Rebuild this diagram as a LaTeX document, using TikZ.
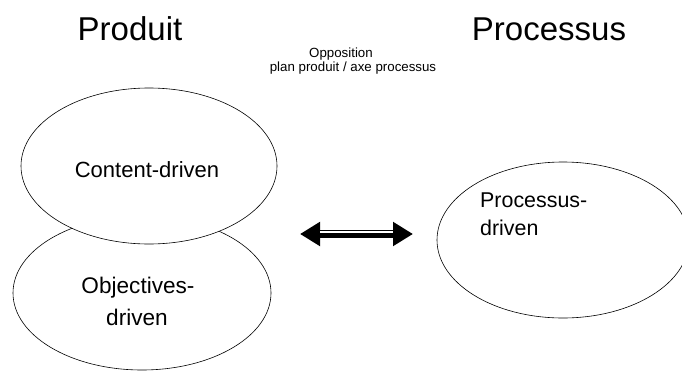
\documentclass[tikz,border=0pt]{standalone}
\usepackage{fontspec}
\setmainfont{Liberation Sans}
\usetikzlibrary{shapes.geometric,arrows.meta}
\begin{document}
\begin{tikzpicture}[x=1pt,y=-1pt,
  oval/.style={ellipse,draw=black,line width=0.6pt,fill=white,inner sep=0pt},
  title/.style={font=\fontsize{33}{33}\selectfont,inner sep=0pt,anchor=base},
  small/.style={font=\fontsize{13.3}{13.3}\selectfont,inner sep=0pt,anchor=base},
  label/.style={font=\fontsize{22}{22}\selectfont,inner sep=0pt,anchor=base},
  bigarrow/.style={line width=8pt,{Triangle[length=20pt,width=23pt]}-{Triangle[length=20pt,width=23pt]}}
]
\clip (0,0) rectangle (682,372);
\fill[white] (0,0) rectangle (682,372);
% titles
\node[title] (tprod) at (130,40) {Produit};
\node[title] (tproc) at (549,40) {Processus};
\node[small] (opp1) at (341,57) {Opposition};
\node[small] (opp2) at (353,71) {plan produit / axe processus};
% ellipses
\node[oval,minimum width=258pt,minimum height=154pt] (obj) at (142,293) {};
\node[oval,minimum width=256pt,minimum height=156pt] (cont) at (149,166) {};
\node[oval,minimum width=252pt,minimum height=156pt] (proc) at (563,240) {};
% labels
\node[label] (lcont) at (147,177) {Content-driven};
\node[label,font=\fontsize{22.6}{22.6}\selectfont] (lobj1) at (138,293) {Objectives-};
\node[label,font=\fontsize{22.6}{22.6}\selectfont] (lobj2) at (137,325) {driven};
\node[label,anchor=base west,font=\fontsize{21.4}{21.4}\selectfont] (lproc1) at (480,207) {Processus-};
\node[label,anchor=base west,font=\fontsize{21.4}{21.4}\selectfont] (lproc2) at (480,235) {driven};
% double arrow
\coordinate (al) at (300,234);
\coordinate (ar) at (413,234);
\draw[bigarrow] (al) -- (ar);
\draw[white,line width=1.6pt] ([shift={(20,-2)}]al) -- ([shift={(-20,-2)}]ar);
\end{tikzpicture}
\end{document}
